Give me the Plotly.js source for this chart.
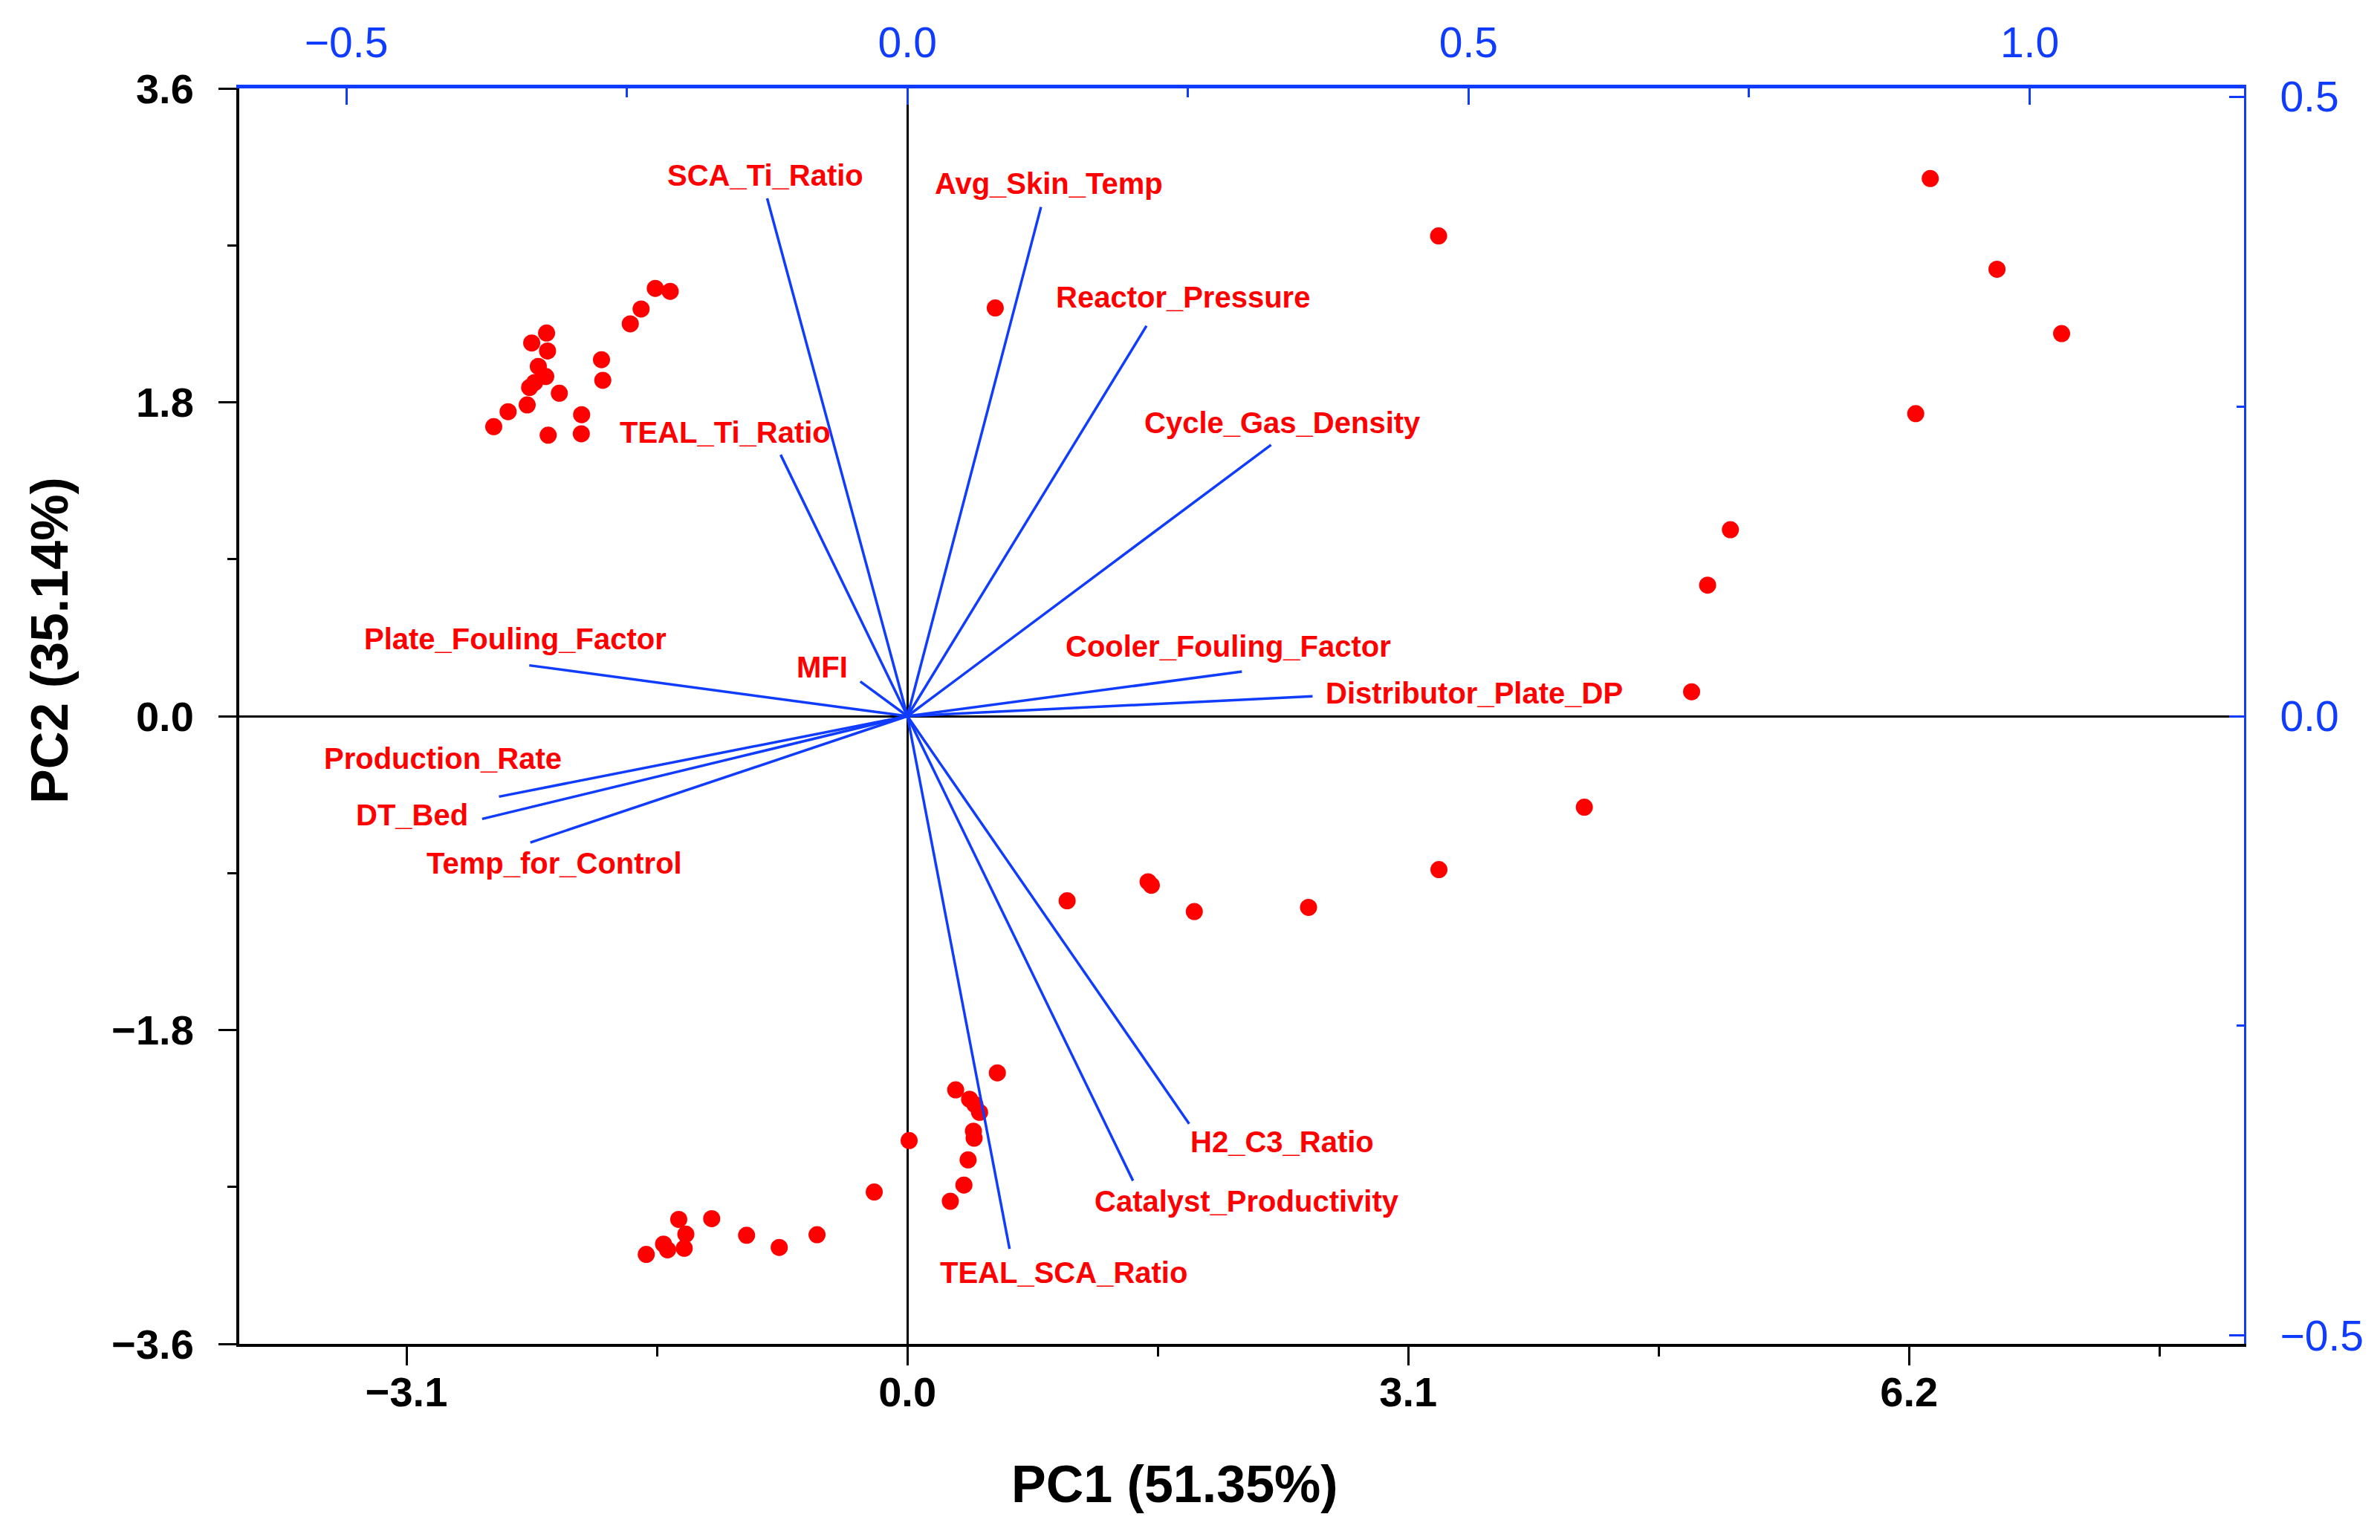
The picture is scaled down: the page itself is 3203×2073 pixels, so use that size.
<!DOCTYPE html>
<html>
<head>
<meta charset="utf-8">
<script src="https://cdn.plot.ly/plotly-3.0.1.min.js"></script>
<style>html,body{margin:0;padding:0;background:#fff;}#chart{width:3203px;height:2073px;}</style>
</head>
<body>
<div id="chart"></div>
<script>
// ---- Data: PCA scores (bottom/left axes) ----
const scoreX = [
  -1.560, -1.468, -1.648, -1.715, -2.233, -2.325, -2.227, -1.893, -2.284, -2.238,
  -1.885, -2.307, -2.338, -2.154, -2.353, -2.471, -2.016, -2.560, -2.223, -2.018,
  0.544,
  3.288, 6.331, 6.744, 7.144, 6.241, 5.094, 4.953, 4.854,
  4.190, 3.290, 2.483, 1.776, 1.490, 1.510, 0.989,
  0.557, 0.299, 0.385, 0.418, 0.447, 0.409, 0.413, 0.011, 0.376, 0.350, 0.266,
  -0.205, -0.559, -0.793, -0.995, -1.211, -1.415, -1.371, -1.381, -1.484, -1.509, -1.616
];
const scoreY = [
  2.453, 2.436, 2.335, 2.250, 2.197, 2.140, 2.094, 2.044, 2.006, 1.948,
  1.926, 1.913, 1.885, 1.852, 1.785, 1.746, 1.729, 1.660, 1.611, 1.619,
  2.341,
  2.754, 3.083, 2.563, 2.194, 1.735, 1.069, 0.751, 0.140,
  -0.522, -0.880, -1.097, -1.121, -0.950, -0.970, -1.059,
  -2.046, -2.143, -2.197, -2.228, -2.272, -2.380, -2.420, -2.434, -2.545, -2.689, -2.782,
  -2.729, -2.974, -3.047, -2.977, -2.882, -2.886, -2.971, -3.052, -3.061, -3.028, -3.087
];

// ---- Data: loadings (top/right axes) ----
const varNames = [
  "SCA_Ti_Ratio", "Avg_Skin_Temp", "Reactor_Pressure", "Cycle_Gas_Density", "TEAL_Ti_Ratio",
  "Plate_Fouling_Factor", "MFI", "Production_Rate", "DT_Bed", "Temp_for_Control",
  "Cooler_Fouling_Factor", "Distributor_Plate_DP", "H2_C3_Ratio", "Catalyst_Productivity", "TEAL_SCA_Ratio"
];
const loadX = [-0.125, 0.119, 0.213, 0.324, -0.113, -0.337, -0.042, -0.364, -0.379, -0.336, 0.298, 0.361, 0.251, 0.201, 0.091];
const loadY = [0.418, 0.411, 0.315, 0.219, 0.211, 0.041, 0.028, -0.065, -0.083, -0.102, 0.036, 0.016, -0.329, -0.375, -0.430];

// ---- Tick values ----
const xTicks = [-3.1, 0.0, 3.1, 6.2];
const xMinor = [-1.55, 1.55, 4.65, 7.75];
const yTicks = [-3.6, -1.8, 0.0, 1.8, 3.6];
const yMinor = [-2.7, -0.9, 0.9, 2.7];
const x2Ticks = [-0.5, 0.0, 0.5, 1.0];
const x2Minor = [-0.25, 0.25, 0.75];
const y2Ticks = [-0.5, 0.0, 0.5];
const y2Minor = [-0.25, 0.25];

const xTitle = "PC1 (51.35%)";
const yTitle = "PC2 (35.14%)";

// ---- Layout-only settings (label offsets in px: [dx, dy-up]) ----
const labelShift = [
  [-2, 31], [11, 32], [49, 39], [15, 30], [-75, 30],
  [-19, 36], [-51, 19], [-75, 51], [-94, 5], [32, -28],
  [-18, 34], [218, 4], [125, -24], [153, -28], [73, -32]
];

const BLUE = '#0f3cff';
const RED = '#ff0000';
const FONT = 'Liberation Sans, Arial, sans-serif';

const traces = [];
// loading vectors
varNames.forEach((n, i) => {
  traces.push({
    type: 'scatter', mode: 'lines', xaxis: 'x2', yaxis: 'y2',
    x: [0, loadX[i]], y: [0, loadY[i]],
    line: {color: BLUE, width: 3.5}, hoverinfo: 'skip', showlegend: false
  });
});
// scores
traces.push({
  type: 'scatter', mode: 'markers', x: scoreX, y: scoreY,
  marker: {color: RED, size: 23, line: {width: 0}},
  hoverinfo: 'skip', showlegend: false
});

const annotations = varNames.map((n, i) => ({
  xref: 'x2', yref: 'y2', x: loadX[i], y: loadY[i], text: n, showarrow: false,
  xanchor: 'center', yanchor: 'middle', xshift: labelShift[i][0], yshift: labelShift[i][1],
  font: {family: FONT, size: 40, color: RED, weight: 700}
}));
annotations.push({
  xref: 'paper', yref: 'paper', x: 0.4666, y: -0.1118, text: xTitle, showarrow: false,
  xanchor: 'center', yanchor: 'middle', font: {family: FONT, size: 70, color: '#000', weight: 700}
});
annotations.push({
  xref: 'paper', yref: 'paper', x: -0.0945, y: 0.5604, text: yTitle, showarrow: false, textangle: -90,
  xanchor: 'center', yanchor: 'middle', font: {family: FONT, size: 70, color: '#000', weight: 700}
});

const layout = {
  width: 3203, height: 2073,
  margin: {l: 322, r: 183, t: 119, b: 264, pad: 0},
  paper_bgcolor: '#fff', plot_bgcolor: '#fff',
  showlegend: false, hovermode: false,
  font: {family: FONT},
  xaxis: {
    range: [-4.135, 8.273], tickmode: 'array', tickvals: xTicks, tickformat: '.1f',
    ticks: 'outside', ticklen: 25, tickwidth: 3, tickcolor: '#000',
    showline: true, linecolor: '#000', linewidth: 4, mirror: false,
    zeroline: true, zerolinecolor: '#000', zerolinewidth: 3, showgrid: false,
    tickfont: {family: FONT, size: 56, color: '#000', weight: 700}, ticklabelstandoff: -12,
    minor: {tickmode: 'array', tickvals: xMinor, ticks: 'outside', ticklen: 13, tickwidth: 3, tickcolor: '#000', showgrid: false}
  },
  yaxis: {
    range: [-3.6, 3.6], tickmode: 'array', tickvals: yTicks, tickformat: '.1f',
    ticks: 'outside', ticklen: 24, tickwidth: 3, tickcolor: '#000',
    showline: true, linecolor: '#000', linewidth: 4, mirror: false,
    zeroline: true, zerolinecolor: '#000', zerolinewidth: 3, showgrid: false,
    tickfont: {family: FONT, size: 56, color: '#000', weight: 700}, ticklabelstandoff: 22,
    minor: {tickmode: 'array', tickvals: yMinor, ticks: 'outside', ticklen: 12, tickwidth: 3, tickcolor: '#000', showgrid: false}
  },
  xaxis2: {
    overlaying: 'x', side: 'top', anchor: 'y',
    range: [-0.5954, 1.191], tickmode: 'array', tickvals: x2Ticks, tickformat: '.1f',
    ticks: 'inside', ticklen: 22, tickwidth: 3, tickcolor: BLUE,
    showline: true, linecolor: BLUE, linewidth: 5,
    zeroline: false, showgrid: false,
    tickfont: {family: FONT, size: 57, color: BLUE}, ticklabelstandoff: 14,
    minor: {tickmode: 'array', tickvals: x2Minor, ticks: 'inside', ticklen: 12, tickwidth: 3, tickcolor: BLUE, showgrid: false}
  },
  yaxis2: {
    overlaying: 'y', side: 'right', anchor: 'x',
    range: [-0.5067, 0.5067], tickmode: 'array', tickvals: y2Ticks, tickformat: '.1f',
    ticks: 'inside', ticklen: 20, tickwidth: 3, tickcolor: BLUE,
    showline: true, linecolor: BLUE, linewidth: 3,
    zeroline: false, showgrid: false,
    tickfont: {family: FONT, size: 57, color: BLUE}, ticklabelstandoff: 34,
    minor: {tickmode: 'array', tickvals: y2Minor, ticks: 'inside', ticklen: 10, tickwidth: 3, tickcolor: BLUE, showgrid: false}
  },
  annotations: annotations
};

Plotly.newPlot('chart', traces, layout, {staticPlot: true, displayModeBar: false});
</script>
</body>
</html>
